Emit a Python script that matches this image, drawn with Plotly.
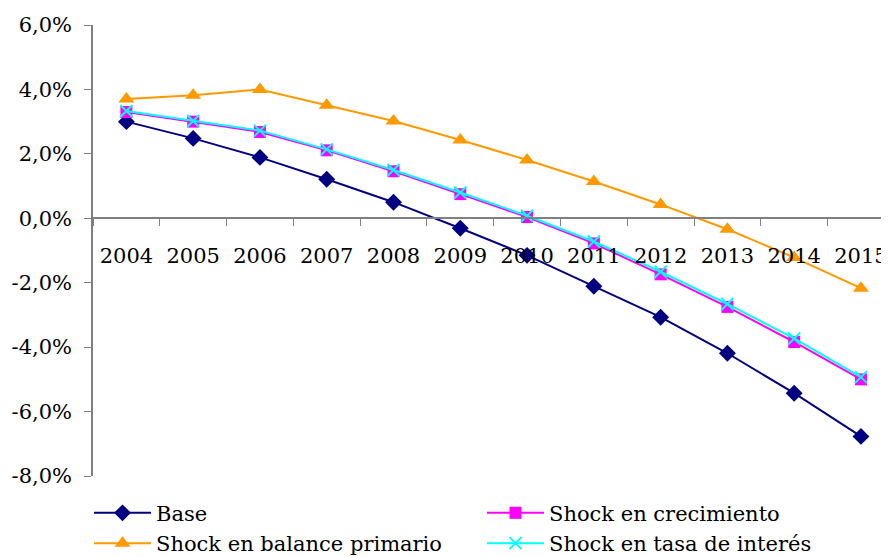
import plotly.graph_objects as go

anios = ['2004', '2005', '2006', '2007', '2008', '2009', '2010', '2011', '2012', '2013', '2014', '2015']

base = [3.0, 2.48, 1.89, 1.21, 0.5, -0.31, -1.15, -2.11, -3.07, -4.19, -5.43, -6.77]
shock_crecimiento = [3.3, 3.0, 2.68, 2.11, 1.46, 0.75, 0.04, -0.78, -1.74, -2.75, -3.84, -5.0]
shock_balance = [3.7, 3.82, 4.0, 3.51, 3.02, 2.43, 1.81, 1.14, 0.43, -0.34, -1.22, -2.17]
shock_tasa = [3.33, 3.02, 2.72, 2.14, 1.5, 0.8, 0.08, -0.72, -1.66, -2.66, -3.73, -4.93]

y_ticks = [-8, -6, -4, -2, 0, 2, 4, 6]
y_ticktext = ['-8,0%', '-6,0%', '-4,0%', '-2,0%', '0,0%', '2,0%', '4,0%', '6,0%']

fuente = dict(family='DejaVu Serif', size=21, color='black')
y_min, y_max = -8, 6

fig = go.Figure()

fig.add_trace(go.Scatter(x=anios, y=base, name='Base', mode='lines+markers',
                         line=dict(color='#000080', width=2),
                         marker=dict(symbol='diamond', size=13, color='#000080')))
fig.add_trace(go.Scatter(x=anios, y=shock_crecimiento, name='Shock en crecimiento', mode='lines+markers',
                         line=dict(color='#FF00FF', width=2),
                         marker=dict(symbol='square', size=12, color='#FF00FF')))
fig.add_trace(go.Scatter(x=anios, y=shock_balance, name='Shock en balance primario', mode='lines+markers',
                         line=dict(color='#FF9900', width=2),
                         marker=dict(symbol='triangle-up', size=14, color='#FF9900')))
fig.add_trace(go.Scatter(x=anios, y=shock_tasa, name='Shock en tasa de interés', mode='lines+markers',
                         line=dict(color='#00FFFF', width=2),
                         marker=dict(symbol='x-thin', size=12, color='#00FFFF',
                                     line=dict(color='#00FFFF', width=2))))

# la pagina tiene 8px de margen en el body, se compensa en el tamaño
fig.update_layout(
    width=881, height=549,
    margin=dict(l=85, r=0, t=17, b=81, autoexpand=False),
    paper_bgcolor='white', plot_bgcolor='white',
    showlegend=True,
    legend=dict(orientation='h', x=0, y=-0.037, xanchor='left', yanchor='top',
                entrywidth=325, entrywidthmode='pixels', tracegroupgap=0, indentation=-4,
                font=fuente, itemwidth=57),
    xaxis=dict(type='category', range=[-0.5, 11.42], anchor='free',
               position=(0 - y_min) / (y_max - y_min), automargin=False,
               showline=True, linecolor='#808080', linewidth=1.5,
               ticks='outside', tickson='boundaries', ticklen=7, tickcolor='#808080',
               ticklabelstandoff=19, tickfont=fuente, showgrid=False, zeroline=False),
    yaxis=dict(range=[y_min, y_max], tickvals=y_ticks, ticktext=y_ticktext, automargin=False,
               showline=True, linecolor='#808080', linewidth=1.5,
               ticks='outside', ticklen=7, tickcolor='#808080', ticklabelstandoff=8,
               tickfont=fuente, showgrid=False, zeroline=False),
)

fig.write_html('out.html')
